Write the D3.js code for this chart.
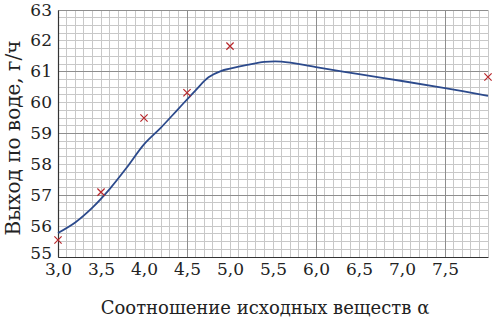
<!DOCTYPE html>
<html lang="ru">
<head>
  <meta charset="utf-8">
  <script src="https://d3js.org/d3.v7.min.js"></script>
  <style>
    body { margin: 0; background: #fff; }
    text { font-family: "DejaVu Serif", serif; fill: #222; }
    .tick text { font-size: 17px; }
    .grid-minor line { stroke: #c8c8c8; stroke-width: 1; shape-rendering: crispEdges; }
    .grid-major line { stroke: #8e8e8e; stroke-width: 1; shape-rendering: crispEdges; }
  </style>
</head>
<body>
<div id="chart"></div>
<script>
  // experimental points (x marks)
  var pointX = [3.0, 3.5, 4.0, 4.5, 5.0, 8.0];
  var pointY = [55.55, 57.1, 59.5, 60.32, 61.83, 60.83];

  // fitted curve
  var curveX = [3.0, 3.2, 3.4, 3.6, 3.8, 4.0, 4.2, 4.4, 4.6, 4.75, 4.9, 5.0, 5.2, 5.4, 5.6, 6.0, 6.5, 7.0, 7.5, 8.0];
  var curveY = [55.78, 56.12, 56.6, 57.2, 57.9, 58.65, 59.2, 59.8, 60.4, 60.82, 61.03, 61.1, 61.22, 61.32, 61.33, 61.15, 60.92, 60.7, 60.47, 60.22];

  var xTicks = [3.0, 3.5, 4.0, 4.5, 5.0, 5.5, 6.0, 6.5, 7.0, 7.5];
  var yTicks = [55, 56, 57, 58, 59, 60, 61, 62, 63];

  var width = 493, height = 322;
  var margin = {top: 10, right: 5, bottom: 65, left: 58};
  var w = width - margin.left - margin.right,
      h = height - margin.top - margin.bottom;

  var svg = d3.select("#chart").append("svg")
      .attr("width", width)
      .attr("height", height);

  var g = svg.append("g")
      .attr("transform", "translate(" + margin.left + "," + margin.top + ")");

  var x = d3.scaleLinear().domain([3, 8]).range([0, w]);
  var y = d3.scaleLinear().domain([55, 63]).range([h, 0]);

  // graph paper grid
  g.append("g").attr("class", "grid-minor")
    .selectAll("line.v").data(d3.range(30, 81).map(function(d) { return d / 10; }))
    .enter().append("line")
    .attr("x1", function(d) { return x(d); }).attr("x2", function(d) { return x(d); })
    .attr("y1", 0).attr("y2", h);
  g.select(".grid-minor")
    .selectAll("line.h").data(d3.range(220, 253).map(function(d) { return d / 4; }))
    .enter().append("line")
    .attr("x1", 0).attr("x2", w)
    .attr("y1", function(d) { return y(d); }).attr("y2", function(d) { return y(d); });

  var major = g.append("g").attr("class", "grid-major");
  major.selectAll("line.v").data([4.5, 6.0, 7.5])
    .enter().append("line")
    .attr("x1", function(d) { return x(d); }).attr("x2", function(d) { return x(d); })
    .attr("y1", 0).attr("y2", h);
  major.selectAll("line.h").data([57, 59, 61, 63])
    .enter().append("line")
    .attr("x1", 0).attr("x2", w)
    .attr("y1", function(d) { return y(d); }).attr("y2", function(d) { return y(d); });

  // axes
  var fmt = function(d) { return d3.format(".1f")(d).replace(".", ","); };
  var gx = g.append("g")
      .attr("transform", "translate(0," + h + ")")
      .call(d3.axisBottom(x).tickValues(xTicks).tickFormat(fmt).tickSize(0).tickPadding(6));
  gx.select(".domain").attr("stroke", "#333").attr("stroke-width", 1.2);

  var gy = g.append("g")
      .call(d3.axisLeft(y).tickValues(yTicks).tickFormat(d3.format("d")).tickSize(0).tickPadding(6));
  gy.select(".domain").attr("stroke", "#333").attr("stroke-width", 1.2);
  gy.selectAll(".tick text").attr("dy", "0.3em");
  gy.selectAll(".tick text").filter(function(d) { return d === 55; }).attr("dy", "0.1em");

  // curve
  var line = d3.line()
      .x(function(d, i) { return x(curveX[i]); })
      .y(function(d, i) { return y(curveY[i]); })
      .curve(d3.curveCatmullRom);
  g.append("path")
    .datum(curveX)
    .attr("d", line)
    .attr("fill", "none")
    .attr("stroke", "#2c4a8c")
    .attr("stroke-width", 1.8);

  // points
  g.selectAll("path.pt").data(pointX)
    .enter().append("path")
    .attr("class", "pt")
    .attr("transform", function(d, i) { return "translate(" + x(d) + "," + y(pointY[i]) + ")"; })
    .attr("d", d3.symbol().type(d3.symbolX).size(36))
    .attr("fill", "none")
    .attr("stroke", "#b8282c")
    .attr("stroke-width", 1.2);

  // axis titles
  svg.append("text")
    .attr("x", margin.left + 207)
    .attr("y", 314)
    .attr("text-anchor", "middle")
    .style("font-size", "18px")
    .text("Соотношение исходных веществ α");

  svg.append("text")
    .attr("transform", "translate(20," + 138 + ") rotate(-90)")
    .attr("text-anchor", "middle")
    .style("font-size", "20px")
    .text("Выход по воде, г/ч");
</script>
</body>
</html>
